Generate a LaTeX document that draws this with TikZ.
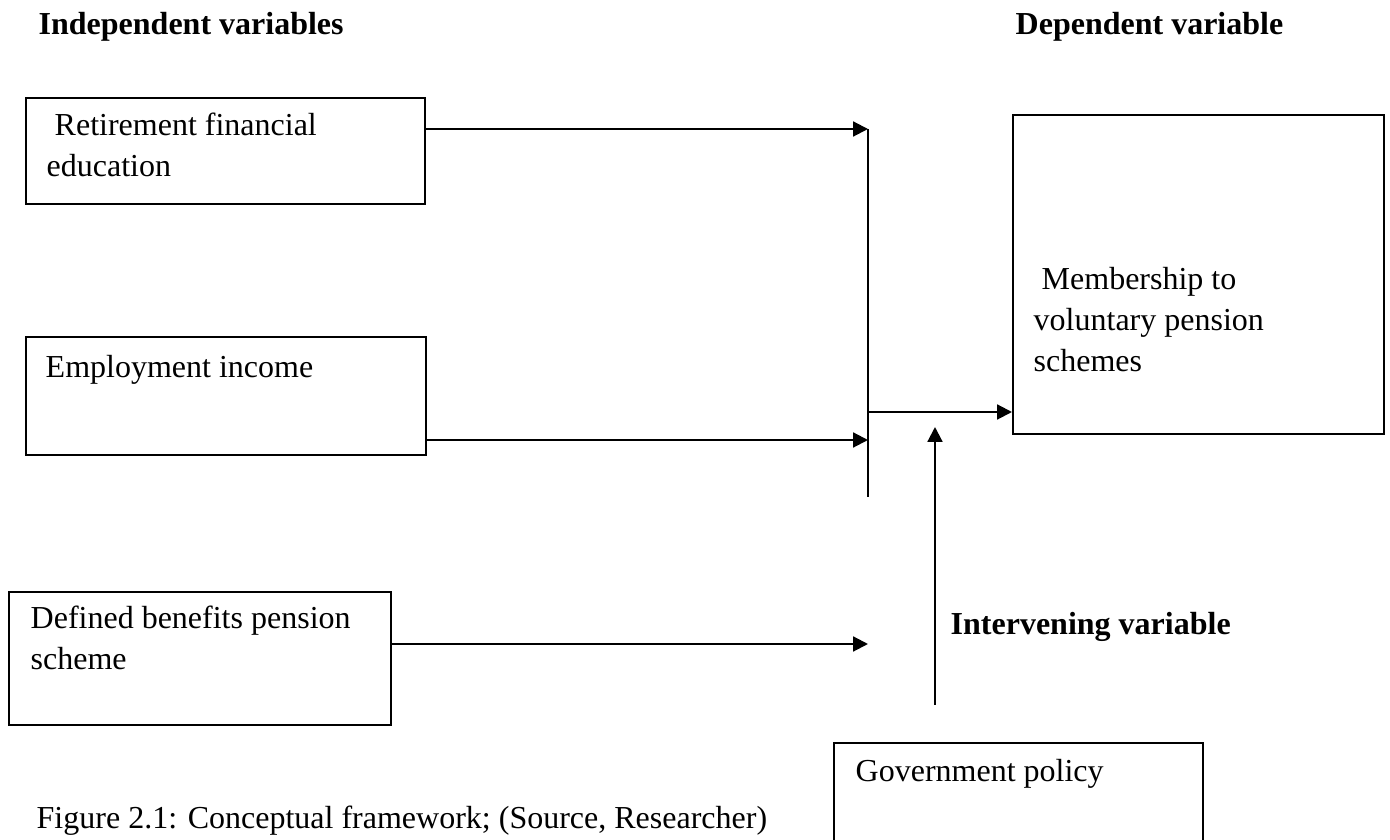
\documentclass[tikz,border=0pt]{standalone}
\usepackage{fontspec}
\setmainfont{Liberation Serif}
\usetikzlibrary{arrows.meta}
\begin{document}
\begin{tikzpicture}[x=0.01cm, y=-0.01cm]
            \tikzstyle{box} = [draw, line width=0.6pt, anchor=north west, inner sep=0pt]
            \tikzstyle{words} = [anchor=base west, inner sep=0pt, align=left, font=\fontsize{9.1}{11.7}\selectfont]
            \tikzstyle{head} = [words, font=\fontsize{9.1}{11.7}\selectfont\bfseries]
            \tikzstyle{link} = [line width=0.6pt, -{Triangle[length=4.2pt, width=4.2pt]}]

            \useasboundingbox (0, 0) rectangle (1390, 840);

            \node[head] (indep) at (38, 35) {Independent variables};
            \node[head] (depend) at (1015, 35) {Dependent variable};
            \node[head] (interv) at (950, 635) {Intervening variable};

            \node[box, minimum width=3.99cm, minimum height=1.06cm] (rfe) at (25, 97) {};
            \node[box, minimum width=4cm, minimum height=1.18cm] (emp) at (25, 336) {};
            \node[box, minimum width=3.82cm, minimum height=1.33cm] (dbp) at (8, 591) {};
            \node[box, minimum width=3.71cm, minimum height=3.19cm] (dep) at (1012, 114) {};
            \node[box, minimum width=3.69cm, minimum height=1.1cm] (gov) at (833, 742) {};

            % multi-line texts sit on the baseline of their last line
            \node[words] (rfetext) at (46, 177) {\ Retirement financial\\education};
            \node[words] (emptext) at (45, 378) {Employment income};
            \node[words] (dbptext) at (30, 670) {Defined benefits pension\\scheme};
            \node[words] (deptext) at (1033, 372) {\ Membership to\\voluntary pension\\schemes};
            \node[words] (govtext) at (855, 782) {Government policy};
            \node[words] (caption) at (36, 829) {Figure 2.1: Conceptual framework; (Source, Researcher)};

            % junction of the three inputs
            \coordinate (jtop) at (868, 129);
            \coordinate (jemp) at (868, 440);
            \coordinate (jbot) at (868, 497);
            \coordinate (jout) at (868, 412);
            \coordinate (jdb) at (868, 644);
            \coordinate (govup) at (935, 705);
            \coordinate (govtip) at (935, 427);

            \draw[link] (rfe.east |- jtop) -- (jtop);
            \draw[link] (emp.east |- jemp) -- (jemp);
            \draw[link] (dbp.east |- jdb) -- (jdb);
            \draw[line width=0.6pt] (jtop) -- (jbot);
            \draw[link] (jout) -- (dep.west |- jout);
            \draw[link] (govup) -- (govtip);
\end{tikzpicture}
\end{document}
